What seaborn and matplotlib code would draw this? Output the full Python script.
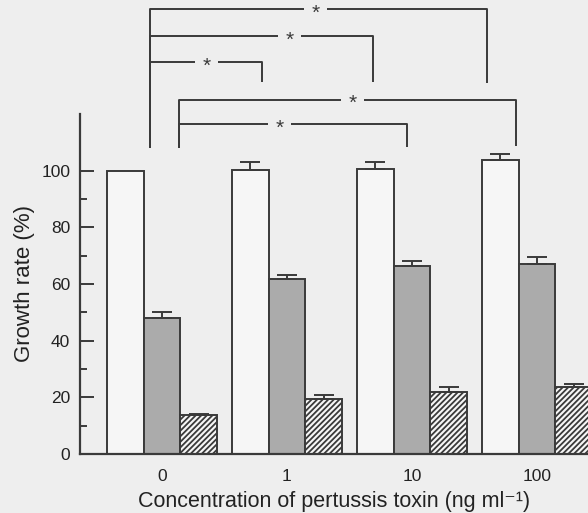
import seaborn as sns
import matplotlib.pyplot as plt
import pandas as pd
from matplotlib.ticker import FixedLocator

# concentrations of pertussis toxin (ng/ml)
concentrations = ["0", "1", "10", "100"]
series = ["A", "B", "C"]
growth_a = [100.0, 100.1, 100.6, 103.6]
growth_b = [48.0, 61.8, 66.2, 67.0]
growth_c = [13.8, 19.4, 21.8, 23.8]
err_a = [0.0, 2.9, 2.6, 2.3]
err_b = [2.1, 1.2, 2.0, 2.5]
err_c = [0.4, 1.3, 2.0, 1.0]

# significance brackets: left x, right x, bar y, left drop y, right drop y, star x
brackets = [
    (-0.096, 2.600, 156.9, 108.1, 131.1, 1.232),
    (-0.096, 1.688, 147.5, 108.1, 131.4, 1.024),
    (-0.096, 0.800, 138.2, 108.1, 131.4, 0.360),
    (0.136, 2.832, 125.1, 108.1, 108.8, 1.528),
    (0.136, 1.960, 116.6, 108.1, 108.5, 0.944),
]

df = pd.DataFrame({
    "conc": concentrations * 3,
    "series": [s for s in series for _ in concentrations],
    "growth": growth_a + growth_b + growth_c,
})

sns.set_style("ticks")
plt.rcParams["font.family"] = ["Liberation Sans", "DejaVu Sans"]
plt.rcParams["hatch.linewidth"] = 1.3

bg = "#eeeeee"
edge = "#3a3a3a"
fig = plt.figure(figsize=(5.88, 5.13), dpi=100, facecolor=bg)
ax = fig.add_axes([0.136, 0.115, 0.864, 0.6628])
ax.set_facecolor(bg)

sns.barplot(data=df, x="conc", y="growth", hue="series", order=concentrations,
            palette=["#f6f6f6", "#ababab", "#f6f6f6"], width=0.88,
            errorbar=None, edgecolor=edge, linewidth=1.4, legend=False, ax=ax)

for bar in ax.containers[2]:
    bar.set_hatch("//////")

for cont, errs in zip(ax.containers, [err_a, err_b, err_c]):
    for bar, e in zip(cont, errs):
        if e <= 0:
            continue
        xc = bar.get_x() + bar.get_width() / 2
        ax.errorbar(xc, bar.get_height(), yerr=[[0], [e]], fmt="none",
                    ecolor=edge, elinewidth=1.4, capsize=7, capthick=1.4)

ax.set_xlim(-0.656, 3.408)
ax.set_ylim(0, 120)
ax.set_yticks([0, 20, 40, 60, 80, 100])
ax.yaxis.set_minor_locator(FixedLocator([10, 30, 50, 70, 90]))
ax.tick_params(axis="y", which="major", direction="in", length=10, width=1.4,
               color=edge, labelsize=12.5, pad=7)
ax.tick_params(axis="y", which="minor", direction="in", length=5, width=1.4, color=edge)
ax.tick_params(axis="x", length=0, labelsize=12.5, pad=11)
for lab in ax.get_xticklabels() + ax.get_yticklabels():
    lab.set_color("#222222")

sns.despine(ax=ax)
for side in ["left", "bottom"]:
    ax.spines[side].set_linewidth(1.6)
    ax.spines[side].set_color(edge)

ax.set_xlabel("Concentration of pertussis toxin (ng ml\u207b\u00b9)", fontsize=15.5,
              color="#222222", labelpad=4.5)
ax.set_ylabel("Growth rate (%)", fontsize=16, color="#222222")
ax.yaxis.set_label_coords(-0.088, 0.5)

# significance brackets above the bars
gap = 0.092
for x0, x1, yb, yl, yr, xs in brackets:
    kw = dict(color=edge, lw=1.4, clip_on=False, solid_capstyle="butt")
    ax.plot([x0, x0, xs - gap], [yl, yb, yb], **kw)
    ax.plot([xs + gap, x1, x1], [yb, yb, yr], **kw)
    ax.text(xs, yb - 1.5, "*", ha="center", va="center", fontsize=15,
            color=edge, clip_on=False)

fig.savefig("out.png", dpi=100, facecolor=bg)
